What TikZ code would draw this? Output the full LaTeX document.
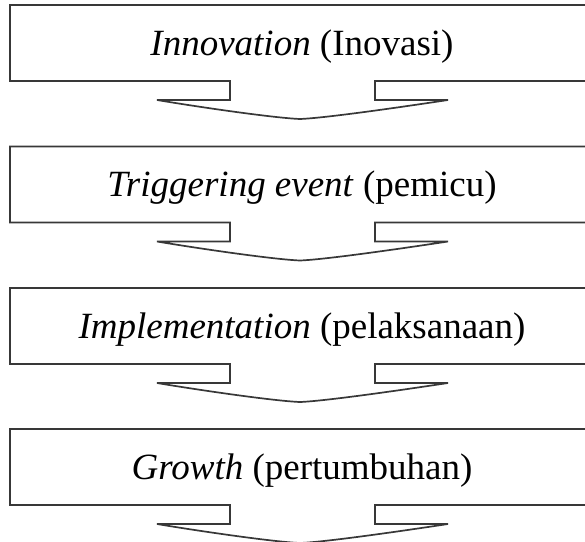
\documentclass[tikz,border=0pt]{standalone}
\usepackage{fontspec}
\setmainfont{Liberation Serif}
\begin{document}
\begin{tikzpicture}[x=1pt,y=-1pt,
  shapeline/.style={draw=black!78,line width=1.7pt,line join=miter},
  lbl/.style={font=\fontsize{37}{40}\selectfont,anchor=base,inner sep=0pt}]
\useasboundingbox (0,0) rectangle (585,541);
\clip (0,0) rectangle (585,541);
\foreach \t/\nm/\txt in {5/innov/{\textit{Innovation} (Inovasi)},
                         146.5/trig/{\textit{Triggering event} (pemicu)},
                         288/impl/{\textit{Implementation} (pelaksanaan)},
                         429/grow/{\textit{Growth} (pertumbuhan)}}{
  \draw[shapeline] (10,\t) -- (596,\t) -- (596,\t+76) -- (375,\t+76) -- (375,\t+95) -- (448,\t+95)
     .. controls (395,\t+103) and (325,\t+113) .. (300,\t+114)
     .. controls (275,\t+113) and (205,\t+103) .. (157,\t+95)
     -- (230,\t+95) -- (230,\t+76) -- (10,\t+76) -- cycle;
  \node[lbl] (\nm) at (302,\t+50) {\txt};
}
\end{tikzpicture}
\end{document}
